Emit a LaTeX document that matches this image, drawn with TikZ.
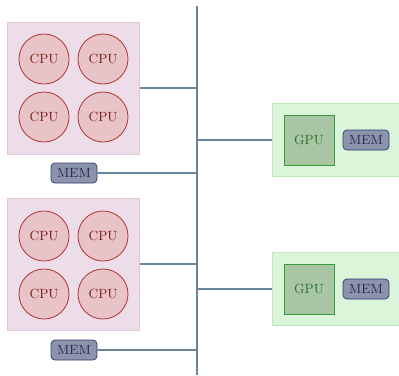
\documentclass[tikz,border=0pt]{standalone}
\usetikzlibrary{positioning}
\definecolor{busc}{HTML}{6A8499}
\definecolor{cpugrp}{HTML}{ECDDE8}
\definecolor{cpugrpb}{HTML}{E0C6D6}
\definecolor{cpufill}{HTML}{E8C4C8}
\definecolor{cpudraw}{HTML}{B03434}
\definecolor{cputext}{HTML}{7A1A1A}
\definecolor{memfill}{HTML}{8C93AB}
\definecolor{memdraw}{HTML}{2F3F6F}
\definecolor{memtext}{HTML}{1F2A50}
\definecolor{gpugrp}{HTML}{DAF5DA}
\definecolor{gpugrpb}{HTML}{C2E6C2}
\definecolor{gpufill}{HTML}{A8C6A4}
\definecolor{gpudraw}{HTML}{3A9A3A}
\definecolor{gputext}{HTML}{2E6E2E}
\tikzset{
  cpu/.style={circle, draw=cpudraw, fill=cpufill, text=cputext, minimum size=37.5pt, inner sep=0pt, line width=0.6pt},
  mem/.style={rounded corners=3pt, draw=memdraw, fill=memfill, text=memtext, minimum width=34.5pt, minimum height=15pt, inner sep=1pt, line width=0.6pt},
  gpu/.style={draw=gpudraw, fill=gpufill, text=gputext, minimum size=37.5pt, inner sep=0pt, line width=0.6pt},
  cpugroup/.style={draw=cpugrpb, fill=cpugrp, minimum size=99pt, inner sep=0pt, line width=0.6pt},
  gpugroup/.style={draw=gpugrpb, fill=gpugrp, minimum width=95.25pt, minimum height=54.75pt, inner sep=0pt, line width=0.6pt},
  link/.style={draw=busc, line width=1.6pt},
}
\begin{document}
\begin{tikzpicture}[x=0.75pt, y=-0.75pt]
\useasboundingbox (0,0) rectangle (399,375);
% system bus
\coordinate (bustop) at (197,6);
\coordinate (busbot) at (197,375);
\draw[link] (bustop) -- (busbot);
% first CPU socket
\node[cpugroup] (s1) at (73.5,88) {};
\node[cpu] (c11) at (44,59) {CPU};
\node[cpu] (c12) at (103,59) {CPU};
\node[cpu] (c13) at (44,117) {CPU};
\node[cpu] (c14) at (103,117) {CPU};
\node[mem] (m1) at (74,173) {MEM};
% second CPU socket
\node[cpugroup] (s2) at (73.5,264) {};
\node[cpu] (c21) at (44,236) {CPU};
\node[cpu] (c22) at (103,236) {CPU};
\node[cpu] (c23) at (44,294) {CPU};
\node[cpu] (c24) at (103,294) {CPU};
\node[mem] (m2) at (74,350) {MEM};
% GPU cards
\node[gpugroup] (g1) at (335.5,139.5) {};
\node[gpu] (gp1) at (309,140) {GPU};
\node[mem] (gm1) at (366,140) {MEM};
\node[gpugroup] (g2) at (335.5,289) {};
\node[gpu] (gp2) at (309,289) {GPU};
\node[mem] (gm2) at (366,289) {MEM};
% taps onto the bus
\coordinate (t1) at (197,88);
\coordinate (t2) at (197,173);
\coordinate (t3) at (197,264);
\coordinate (t4) at (197,350);
\coordinate (t5) at (197,140);
\coordinate (t6) at (197,289);
\draw[link] (s1.east |- t1) -- (t1);
\draw[link] (m1.east) -- (t2);
\draw[link] (s2.east |- t3) -- (t3);
\draw[link] (m2.east) -- (t4);
\draw[link] (t5) -- (g1.west |- t5);
\draw[link] (t6) -- (g2.west |- t6);
\end{tikzpicture}
\end{document}
